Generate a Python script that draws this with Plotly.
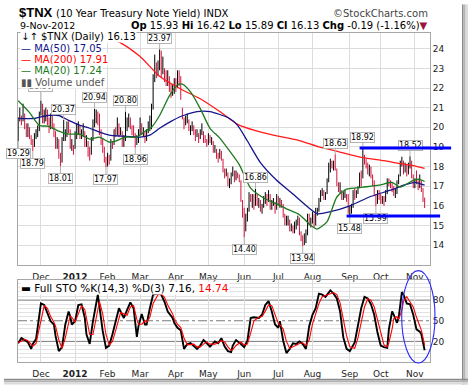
import plotly.graph_objects as go

# ------------------------------------------------------------------ data
MONTH_LABELS = ["Dec", "<b>2012</b>", "Feb", "Mar", "Apr", "May", "Jun", "Jul", "Aug", "Sep", "Oct", "Nov"]
MONTH_START_IDX = [14, 35, 55, 75, 97, 117, 139, 160, 181, 204, 223, 244]

HIGH = [
    20.5, 21.0, 20.6, 21.2, 20.7, 20.2, 20.2, 20.0, 19.6, 19.4, 19.7, 19.9, 20.1, 20.8,  # Nov 11
    21.36, 21.2, 20.9, 21.0, 20.9, 20.5, 20.7, 20.6, 20.2, 19.8, 19.5, 19.4, 18.7, 19.5, 20.37, 19.9, 20.3, 20.3, 19.9, 19.4, 19.1,  # Dec
    19.8, 20.2, 20.3, 20.1, 19.9, 20.2, 19.8, 19.6, 19.3, 19.0, 19.5, 20.4, 20.94, 20.9, 20.8, 20.7, 19.9, 19.4, 19.0, 18.5,  # Jan
    18.7, 18.6, 19.4, 19.3, 19.9, 20.0, 20.5, 20.2, 20.0, 19.8, 19.6, 20.80, 20.5, 20.7, 20.5, 20.1, 20.1, 19.7, 19.6, 19.9,  # Feb
    20.5, 20.2, 20.0, 19.8, 19.9, 20.3, 20.6, 21.2, 22.7, 23.7, 23.3, 23.4, 23.97, 23.9, 23.6, 23.0, 22.9, 22.9, 22.6, 22.2, 22.2, 22.5,  # Mar
    22.5, 22.9, 22.9, 22.6, 21.0, 20.5, 20.6, 20.7, 20.4, 20.1, 20.3, 20.1, 19.9, 19.9, 19.7, 19.9, 20.2, 19.8, 19.6, 19.4,  # Apr
    19.7, 19.6, 19.5, 19.3, 19.1, 18.9, 18.7, 18.9, 18.8, 18.4, 17.9, 17.9, 17.7, 17.4, 17.7, 18.0, 17.8, 17.8, 17.7, 17.6, 17.3, 16.3,  # May
    15.9, 15.6, 15.9, 16.7, 16.6, 16.6, 16.6, 16.86, 16.6, 16.4, 16.3, 16.1, 16.5, 16.7, 16.6, 16.8, 16.6, 16.3, 16.4, 16.2, 16.6,  # Jun
    16.5, 16.4, 16.3, 16.1, 15.6, 15.5, 15.5, 15.3, 15.1, 15.0, 15.2, 15.3, 15.5, 15.4, 14.7, 14.5, 14.6, 14.8, 15.6, 15.6, 15.4,  # Jul
    15.7, 15.6, 15.9, 15.9, 16.4, 16.8, 16.9, 16.8, 16.7, 17.4, 18.2, 18.4, 18.3, 18.3, 18.63, 17.9, 17.2, 17.2, 16.8, 16.7, 16.8, 16.6, 16.6,  # Aug
    16.0, 16.1, 16.8, 16.9, 16.8, 17.0, 17.7, 17.8, 18.92, 18.6, 18.4, 18.2, 18.1, 18.0, 17.6, 17.3, 16.6, 16.8, 16.8,  # Sep
    16.6, 16.5, 16.5, 16.8, 17.4, 17.4, 17.3, 17.2, 17.0, 16.9, 17.3, 17.6, 18.3, 18.5, 18.3, 18.2, 18.1, 18.2, 18.52, 18.3, 17.6,  # Oct
    17.4, 17.8, 17.3, 17.6, 17.3, 16.9, 16.42,  # Nov
]
LOW = [
    19.29, 20.3, 20.1, 20.3, 19.9, 19.5, 19.5, 19.4, 19.1, 18.79, 19.0, 19.4, 19.5, 19.8,
    20.6, 20.2, 20.2, 20.3, 20.1, 19.7, 19.9, 19.9, 19.5, 18.9, 18.9, 18.4, 18.01, 18.2, 19.3, 19.3, 19.5, 19.7, 18.9, 18.8, 18.6,
    18.9, 19.4, 19.6, 19.4, 19.4, 19.5, 19.0, 19.0, 18.5, 18.3, 18.6, 19.3, 20.0, 20.2, 20.1, 19.6, 19.1, 18.7, 18.2, 17.97,
    18.0, 18.1, 18.3, 18.9, 19.1, 19.5, 19.6, 19.5, 19.6, 19.0, 19.0, 19.3, 19.8, 20.0, 19.9, 19.6, 19.5, 18.96, 19.1, 19.2,
    19.6, 19.6, 19.5, 19.2, 19.3, 19.7, 19.8, 19.9, 20.9, 22.3, 22.5, 22.6, 22.9, 22.5, 22.7, 22.3, 22.1, 22.1, 21.8, 21.5, 21.6, 21.7,
    21.8, 22.0, 22.1, 21.4, 20.4, 19.9, 20.1, 20.2, 19.8, 19.6, 19.8, 19.6, 19.3, 19.5, 19.2, 19.4, 19.6, 19.2, 19.2, 19.0,
    19.1, 19.2, 19.1, 18.7, 18.7, 18.4, 18.2, 18.4, 18.3, 17.7, 17.4, 17.5, 17.0, 16.9, 17.1, 17.5, 17.2, 17.3, 17.4, 17.2, 16.2, 15.4,
    14.40, 14.7, 15.2, 15.7, 16.2, 15.9, 15.8, 16.0, 16.0, 15.9, 15.7, 15.6, 15.9, 16.1, 16.0, 16.2, 15.8, 15.8, 16.0, 15.6, 15.8,
    16.0, 15.9, 15.9, 15.4, 15.0, 15.0, 15.0, 14.7, 14.7, 14.6, 14.6, 14.8, 15.0, 14.5, 14.2, 13.94, 14.0, 14.1, 14.5, 15.0, 14.9,
    15.1, 14.9, 15.0, 15.5, 15.7, 16.2, 16.5, 16.3, 16.3, 16.6, 17.2, 17.7, 17.9, 17.8, 17.8, 17.0, 16.7, 16.6, 16.3, 16.3, 16.4, 16.2, 15.6,
    15.48, 15.6, 15.9, 16.3, 16.4, 16.6, 16.9, 17.0, 17.4, 18.1, 17.9, 17.6, 17.5, 17.4, 17.0, 16.5, 15.99, 16.1, 16.3,
    16.1, 16.1, 16.0, 16.2, 16.6, 17.0, 16.9, 16.7, 16.5, 16.4, 16.6, 17.1, 17.5, 18.0, 17.6, 17.7, 17.5, 17.6, 17.9, 17.4, 16.9,
    16.9, 17.1, 16.8, 16.9, 16.7, 16.2, 15.89,
]
CLOSE = [
    20.4, 20.5, 20.3, 20.6, 20.0, 19.6, 20.1, 19.7, 19.4, 18.9, 19.6, 19.7, 19.9, 20.7,
    21.1, 20.3, 20.5, 20.9, 20.3, 19.9, 20.6, 20.1, 19.7, 19.0, 19.2, 18.5, 18.1, 19.3, 19.6, 19.6, 20.2, 20.0, 19.0, 19.0, 18.8,
    19.6, 19.9, 20.0, 19.6, 19.7, 19.8, 19.2, 19.2, 18.7, 18.5, 19.3, 20.0, 20.3, 20.7, 20.6, 19.9, 19.4, 18.9, 18.3, 18.0,
    18.5, 18.2, 19.2, 19.1, 19.8, 19.7, 20.3, 19.7, 19.8, 19.1, 19.3, 20.0, 20.0, 20.5, 20.1, 19.9, 19.7, 19.3, 19.3, 19.7,
    20.2, 19.8, 19.8, 19.4, 19.8, 20.0, 20.3, 20.3, 22.5, 23.2, 22.9, 23.0, 23.8, 22.8, 22.9, 22.8, 22.4, 22.5, 22.0, 21.9, 21.9, 22.3,
    22.2, 22.9, 22.7, 21.8, 20.5, 20.1, 20.4, 20.4, 19.9, 19.9, 20.1, 19.8, 19.6, 19.7, 19.4, 19.7, 19.8, 19.4, 19.3, 19.2,
    19.6, 19.3, 19.3, 18.8, 18.9, 18.6, 18.4, 18.7, 18.5, 17.8, 17.6, 17.7, 17.1, 17.2, 17.6, 17.9, 17.3, 17.7, 17.5, 17.4, 16.3, 15.6,
    14.7, 15.3, 15.7, 16.6, 16.4, 16.4, 16.0, 16.6, 16.2, 16.2, 15.8, 15.9, 16.2, 16.5, 16.2, 16.7, 15.9, 16.2, 16.2, 15.8, 16.5,
    16.1, 16.2, 16.0, 15.5, 15.1, 15.1, 15.2, 14.8, 14.9, 14.7, 15.0, 15.2, 15.4, 14.6, 14.3, 14.1, 14.3, 14.4, 15.5, 15.1, 15.1,
    15.5, 15.1, 15.7, 15.8, 16.3, 16.7, 16.8, 16.5, 16.6, 17.3, 18.1, 18.2, 18.1, 18.1, 17.9, 17.0, 16.8, 16.8, 16.4, 16.6, 16.6, 16.4, 15.7,
    15.7, 16.0, 16.7, 16.6, 16.7, 16.9, 17.6, 17.4, 18.7, 18.4, 18.1, 17.8, 17.9, 17.6, 17.1, 16.6, 16.2, 16.6, 16.5,
    16.3, 16.3, 16.2, 16.7, 17.3, 17.2, 17.1, 16.8, 16.6, 16.6, 17.2, 17.4, 18.2, 18.3, 17.7, 18.1, 17.6, 18.0, 18.3, 17.5, 16.9,
    17.3, 17.2, 17.0, 17.5, 16.8, 16.32, 16.13,
]
LAST_OPEN = 15.93

MA50_IDX = [0, 10, 18, 25, 31, 38, 44, 50, 56, 64, 75, 81, 87, 94, 100, 110, 118, 124, 130, 135, 141, 149, 159, 169, 178, 184, 192, 204, 216, 229, 239, 244, 250]
MA50_VAL = [20.45, 20.45, 20.6, 20.6, 20.35, 20.1, 19.95, 19.75, 19.6, 19.55, 19.5, 19.6, 19.95, 20.3, 20.55, 20.8, 20.8, 20.65, 20.45, 20.1, 19.3, 18.2, 17.3, 16.6, 15.95, 15.6, 15.7, 16.0, 16.45, 16.8, 17.1, 17.2, 17.05]

MA200_IDX = [40, 47, 63, 75, 87, 100, 112, 124, 135, 145, 157, 172, 185, 195, 212, 225, 235, 243, 250]
MA200_VAL = [25.3, 24.85, 24.3, 23.6, 22.6, 21.95, 21.45, 20.8, 20.15, 19.85, 19.6, 19.35, 19.0, 18.8, 18.45, 18.3, 18.15, 18.05, 17.91]

MA20_IDX = [0, 7, 13, 19, 25, 31, 38, 44, 50, 56, 60, 66, 73, 78, 82, 87, 93, 98, 101, 106, 112, 118, 124, 130, 136, 143, 151, 159, 165, 173, 180, 184, 190, 196, 202, 212, 222, 230, 235, 243, 247, 250]
MA20_VAL = [21.35, 20.75, 20.1, 20.05, 19.8, 19.65, 19.65, 19.4, 19.5, 19.25, 19.3, 19.5, 19.5, 19.8, 20.0, 20.6, 21.6, 22.15, 22.2, 21.8, 20.95, 19.95, 19.45, 18.8, 18.1, 16.9, 16.4, 16.1, 15.85, 15.55, 15.0, 14.82, 15.2, 16.45, 16.85, 16.95, 17.05, 17.2, 16.95, 17.3, 17.35, 17.24]

STO_IDX = [0, 2, 4, 6, 8, 9, 11, 14, 16, 18,
           20, 22, 23, 25, 27, 29, 31, 32, 33, 35,
           37, 39, 41, 42, 44, 46, 49, 50, 52, 54,
           56, 58, 60, 62, 63, 65, 67, 69, 71, 73,
           74, 76, 78, 79, 81, 83, 86, 88, 90, 92,
           95, 96, 98, 100, 102, 104, 106, 108, 110, 112,
           114, 116, 118, 121, 123, 125, 127, 129, 131, 132,
           134, 137, 139, 141, 143, 145, 148, 150, 152, 154,
           156, 158, 160, 161, 163, 165, 167, 169, 171, 173,
           175, 177, 179, 181, 183, 185, 187, 189, 192, 194,
           196, 198, 200, 202, 204, 207, 209, 211, 213, 215,
           217, 219, 221, 223, 225, 227, 228, 230, 231, 233,
           234, 236, 237, 239, 241, 243, 245, 247, 248, 250]
STO_K = [17.2, 24.7, 21.9, 18.6, 9.1, 16.2, 23.3, 75.3, 72.9, 61.1,
         49.3, 44.6, 28, 5.8, 11.5, 44.6, 63.5, 56.4, 44.6, 49.3,
         72.9, 73.9, 54, 30.4, 16.2, 49.3, 88, 70.6, 35.1, 10.6,
         13.9, 30.4, 49.3, 68.2, 63.5, 54, 65.8, 76.7, 68.2, 26.6,
         42.2, 59.7, 44.6, 44.6, 68.2, 88, 89.4, 88, 77.6, 63.5,
         54, 46.9, 39.8, 36, 9.1, 16.2, 17.6, 13.9, 9.1, 13.9,
         21.9, 17.2, 12.5, 20, 17.2, 24.7, 12.5, 5.8, 4.4, 13.9,
         21.9, 16.2, 11.5, 21, 54, 55, 54, 58.7, 72.9, 78.6,
         63.5, 44.6, 39.8, 49.3, 21, 3, 9.1, 17.2, 16.2, 20,
         16.2, 9.1, 42.2, 58.7, 68.2, 89.4, 88, 84.7, 94.2, 89.4,
         82.4, 63.5, 25.7, 9.1, 5.8, 18.6, 44.6, 68.2, 84.7, 82.4,
         73.9, 58.7, 32.8, 13.9, 11.5, 10.6, 37.5, 63.5, 58.7, 47,
         54, 91.8, 88, 75.3, 73.9, 58.7, 37.5, 34.2, 30.4, 7.16]
STO_D = [18, 21, 23, 21, 15, 13, 17, 50, 72, 68,
         56, 48, 42, 22, 10, 25, 50, 57, 55, 48,
         60, 72, 66, 55, 30, 30, 65, 78, 60, 30,
         15, 20, 36, 55, 62, 60, 58, 70, 72, 52,
         45, 45, 50, 48, 55, 75, 88, 89, 84, 73,
         60, 53, 45, 40, 25, 15, 15, 16, 12, 12,
         16, 19, 16, 16, 18, 21, 19, 12, 7, 8,
         14, 19, 15, 16, 32, 50, 55, 56, 64, 73,
         72, 58, 46, 44, 38, 20, 10, 12, 15, 17,
         18, 14, 22, 45, 60, 75, 85, 87, 90, 91,
         88, 76, 52, 28, 12, 10, 25, 48, 70, 82,
         80, 70, 52, 30, 15, 12, 18, 38, 53, 56,
         52, 65, 78, 85, 78, 70, 55, 42, 36, 14.74]

PRICE_LABELS = [(0, "lo"), (9, "lo"), (14, "hi"), (26, "lo"), (28, "hi"), (47, "hi"),
                (54, "lo"), (66, "hi"), (72, "lo"), (87, "hi"), (139, "lo"), (146, "hi"),
                (175, "lo"), (195, "hi"), (204, "lo"), (212, "hi"), (220, "lo"), (241, "hi")]

RESIST_LEVEL, RESIST_FROM = 18.95, 210
SUPPORT_LEVEL, SUPPORT_FROM = 15.48, 202

# ------------------------------------------------------------------ layout constants
W, H = 468, 391
ML, MR, MT, MB = 18, 38, 33, 23
XMIN, XMAX = -0.1, 253.3
FONT = "DejaVu Sans"
UP_COLOR, DOWN_COLOR = "#000000", "#d4143c"
GRID = "#dcdcdc"
FRAME = "#a6a6a6"


def px_x(px):
    return (px - ML) / (W - ML - MR)


def px_y(py):
    return (H - MB - py) / (H - MT - MB)


fig = go.Figure()

# price bars (high-low), coloured against previous close
up_x, up_y, dn_x, dn_y = [], [], [], []
for i, (h, l, c) in enumerate(zip(HIGH, LOW, CLOSE)):
    prev = CLOSE[i - 1] if i else c
    if c >= prev:
        up_x += [i, i, None]
        up_y += [l, h, None]
    else:
        dn_x += [i, i, None]
        dn_y += [l, h, None]
fig.add_trace(go.Scatter(x=up_x, y=up_y, mode="lines", line=dict(color=UP_COLOR, width=1),
                         hoverinfo="skip", xaxis="x", yaxis="y"))
fig.add_trace(go.Scatter(x=dn_x, y=dn_y, mode="lines", line=dict(color=DOWN_COLOR, width=1),
                         hoverinfo="skip", xaxis="x", yaxis="y"))

fig.add_trace(go.Scatter(x=MA200_IDX, y=MA200_VAL, mode="lines", line=dict(color="#ff1a1a", width=1.3, shape="spline", smoothing=0.6),
                         hoverinfo="skip", xaxis="x", yaxis="y"))
fig.add_trace(go.Scatter(x=MA50_IDX, y=MA50_VAL, mode="lines", line=dict(color="#14148c", width=1.3, shape="spline", smoothing=0.6),
                         hoverinfo="skip", xaxis="x", yaxis="y"))
fig.add_trace(go.Scatter(x=MA20_IDX, y=MA20_VAL, mode="lines", line=dict(color="#1c7a1c", width=1.3, shape="spline", smoothing=0.6),
                         hoverinfo="skip", xaxis="x", yaxis="y"))

# stochastic
fig.add_trace(go.Scatter(x=STO_IDX, y=STO_K, mode="lines", line=dict(color="#000000", width=1.9),
                         hoverinfo="skip", xaxis="x2", yaxis="y2"))
fig.add_trace(go.Scatter(x=STO_IDX, y=STO_D, mode="lines", line=dict(color="#ff0000", width=1.1),
                         hoverinfo="skip", xaxis="x2", yaxis="y2"))

xcommon = dict(range=[XMIN, XMAX], tickmode="array", tickvals=MONTH_START_IDX, ticktext=MONTH_LABELS,
               showgrid=True, gridcolor=GRID, gridwidth=1, showline=True, mirror=True,
               linecolor=FRAME, linewidth=1, ticks="", zeroline=False, ticklabelstandoff=3,
               tickfont=dict(family=FONT, size=9, color="#222"), fixedrange=True)
ycommon = dict(side="right", showline=True, mirror=True, linecolor=FRAME, linewidth=1, ticks="",
               zeroline=False, tickfont=dict(family=FONT, size=9, color="#222"), fixedrange=True)

fig.update_layout(
    width=W, height=H, margin=dict(l=ML, r=MR, t=MT, b=MB, pad=0),
    paper_bgcolor="white", plot_bgcolor="white", showlegend=False,
    font=dict(family=FONT, size=9, color="#222"),
    xaxis=dict(**xcommon, anchor="y", domain=[0, 1]),
    xaxis2=dict(**xcommon, anchor="y2", domain=[0, 1]),
    yaxis=dict(**ycommon, domain=[px_y(269), 1], range=[13.0, 24.8],
               tickmode="array", tickvals=list(range(14, 25)), showgrid=True, gridcolor=GRID),
    yaxis2=dict(**ycommon, domain=[0, px_y(285)], range=[-10, 108.57],
                tickmode="array", tickvals=[20, 50, 80], showgrid=False,
                minor=dict(tickmode="array", tickvals=[-4, 2, 8, 14, 26, 32, 38, 44, 56, 62, 68, 74, 86, 92, 98, 104],
                           showgrid=True, gridcolor="#e2e2e2", ticks="")),
)

shapes = []
# stochastic reference lines
for lvl, dash in [(20, "solid"), (80, "solid"), (50, "dashdot")]:
    shapes.append(dict(type="line", xref="paper", yref="y2", x0=0, x1=1, y0=lvl, y1=lvl,
                       line=dict(color="#7a7a7a", width=1, dash=dash), layer="below"))
# ellipse highlight
shapes.append(dict(type="circle", xref="paper", yref="paper",
                   x0=px_x(401.7), x1=px_x(435), y0=px_y(369), y1=px_y(275),
                   line=dict(color="#2a2aff", width=1.1)))
# drop shadow of frame
for (a, b, col) in [(462, 463.5, "#8a8a8a"), (463.5, 465.5, "#b4b4b4"), (465.5, 468, "#dadada")]:
    shapes.append(dict(type="rect", xref="paper", yref="paper", x0=px_x(a), x1=px_x(b),
                       y0=px_y(391), y1=px_y(4), fillcolor=col, line=dict(width=0)))
for (a, b, col) in [(385, 386.5, "#8a8a8a"), (386.5, 388.5, "#b4b4b4"), (388.5, 391, "#dadada")]:
    shapes.append(dict(type="rect", xref="paper", yref="paper", x0=px_x(4), x1=px_x(468),
                       y0=px_y(b), y1=px_y(a), fillcolor=col, line=dict(width=0)))
fig.update_layout(shapes=shapes)

ann = []
# price labels
for idx, kind in PRICE_LABELS:
    val = HIGH[idx] if kind == "hi" else LOW[idx]
    off = -11 if kind == "hi" else 12
    if idx == 14:
        off = -14
    ann.append(dict(x=idx, y=val, xref="x", yref="y", text=f"{val:.2f}", showarrow=True,
                    arrowhead=0, arrowwidth=1, arrowcolor="#b0b0b0", ax=0, ay=off,
                    font=dict(family=FONT, size=8, color="#000"), bgcolor="white",
                    bordercolor="#b4b4b4", borderwidth=1, borderpad=0))
# support / resistance lines (drawn over labels)
for start, level, length in [(RESIST_FROM, RESIST_LEVEL, 93), (SUPPORT_FROM, SUPPORT_LEVEL, 95)]:
    ann.append(dict(x=start, y=level, xref="x", yref="y", text="", showarrow=True, arrowhead=0,
                    arrowwidth=3, arrowcolor="#0000ff", ax=length, ay=0, standoff=0, startstandoff=0))

# legend rows in price panel
leg_rows = [
    (37, f"<span style='color:#000'>↓↑ $TNX (Daily) {CLOSE[-1]:.2f}</span>"),
    (48.5, f"<span style='color:#14148c'>— MA(50) {MA50_VAL[-1]:.2f}</span>"),
    (60, f"<span style='color:#ff0000'>— MA(200) {MA200_VAL[-1]:.2f}</span>"),
    (71.5, f"<span style='color:#1c7a1c'>— MA(20) {MA20_VAL[-1]:.2f}</span>"),
    (83, "<span style='color:#555'>▮▮ Volume undef</span>"),
]
for yy, txt in leg_rows:
    ann.append(dict(x=px_x(19.5), y=px_y(yy), xref="paper", yref="paper", xanchor="left", yanchor="middle",
                    text=txt, showarrow=False, font=dict(family=FONT, size=10), bgcolor="white", borderpad=0))
# stochastic legend
ann.append(dict(x=px_x(19.5), y=px_y(292.7), xref="paper", yref="paper", xanchor="left", yanchor="middle",
                text=f"▬ Full STO %K(14,3) %D(3) {STO_K[-1]:.2f}, <span style='color:#ff0000'>{STO_D[-1]:.2f}</span>",
                showarrow=False, font=dict(family=FONT, size=10.5, color="#000"), bgcolor="white", borderpad=0))

# header
ann.append(dict(x=px_x(17), y=px_y(12), xref="paper", yref="paper", xanchor="left", yanchor="middle",
                text="<b>$TNX</b>", showarrow=False, font=dict(family="Liberation Sans", size=13, color="#000")))
ann.append(dict(x=px_x(54), y=px_y(12.8), xref="paper", yref="paper", xanchor="left", yanchor="middle",
                text="(10 Year Treasury Note Yield) INDX", showarrow=False, font=dict(family=FONT, size=10, color="#000")))
ann.append(dict(x=px_x(430), y=px_y(12.7), xref="paper", yref="paper", xanchor="right", yanchor="middle",
                text="©StockCharts.com", showarrow=False, font=dict(family=FONT, size=10, color="#444")))
ann.append(dict(x=px_x(17.5), y=px_y(25), xref="paper", yref="paper", xanchor="left", yanchor="middle",
                text="9-Nov-2012", showarrow=False, font=dict(family=FONT, size=9.5, color="#000")))
chg = CLOSE[-1] - CLOSE[-2]
pct = chg / CLOSE[-2] * 100
ann.append(dict(x=px_x(430), y=px_y(25), xref="paper", yref="paper", xanchor="right", yanchor="middle",
                text=(f"<b>Op</b> {LAST_OPEN:.2f} <b>Hi</b> {HIGH[-1]:.2f} <b>Lo</b> {LOW[-1]:.2f} "
                      f"<b>Cl</b> {CLOSE[-1]:.2f} <b>Chg</b> {chg:.2f} ({pct:.2f}%)"
                      "<span style='color:#99163a'>▼</span>"),
                showarrow=False, font=dict(family=FONT, size=10, color="#000")))

fig.update_layout(annotations=ann)

fig.write_html("out.html", config={"displayModeBar": False, "staticPlot": True},
               post_script="document.body.style.margin='0';document.body.style.overflow='hidden';")
